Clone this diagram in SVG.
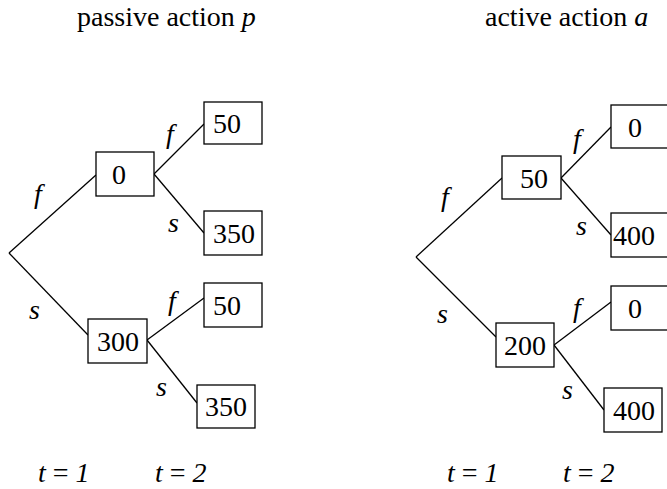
<svg xmlns="http://www.w3.org/2000/svg" width="667" height="489" viewBox="0 0 667 489">
<style>
.t { font-family: 'Liberation Serif', 'Times New Roman', Times, 'DejaVu Serif', serif; font-size: 28px; fill: #000; }
.it { font-style: italic; }
.box { fill: #fff; stroke: #000; stroke-width: 1.3; }
.edge { stroke: #000; stroke-width: 1.3; fill: none; }
</style>
<rect width="667" height="489" fill="#fff"/>
<g font-family="Liberation Serif, Times New Roman, serif" font-size="28">
<text class="t" x="77" y="26">passive action <tspan class="it">p</tspan></text>
<text class="t" x="485" y="26">active action <tspan class="it">a</tspan></text>
</g>

<g id="connectors">
  <line class="edge" x1="9" y1="253" x2="96" y2="175"/>
  <line class="edge" x1="9" y1="253" x2="88" y2="335"/>
  <line class="edge" x1="154" y1="174" x2="204" y2="124"/>
  <line class="edge" x1="154" y1="174" x2="204" y2="233"/>
  <line class="edge" x1="147" y1="340" x2="204" y2="298"/>
  <line class="edge" x1="147" y1="340" x2="197" y2="403"/>
  <line class="edge" x1="416" y1="257" x2="502" y2="178"/>
  <line class="edge" x1="416" y1="257" x2="496" y2="337"/>
  <line class="edge" x1="561" y1="178" x2="611" y2="127"/>
  <line class="edge" x1="561" y1="178" x2="611" y2="235"/>
  <line class="edge" x1="554" y1="345" x2="611" y2="302"/>
  <line class="edge" x1="554" y1="345" x2="604" y2="410"/>
</g>

<g id="edge-labels" font-family="Liberation Serif, serif">
  <text class="t it" x="34" y="203">f</text>
  <text class="t it" x="29" y="319">s</text>
  <text class="t it" x="166" y="143">f</text>
  <text class="t it" x="168" y="232">s</text>
  <text class="t it" x="168" y="310">f</text>
  <text class="t it" x="156" y="396">s</text>
  <text class="t it" x="441" y="206">f</text>
  <text class="t it" x="437" y="323">s</text>
  <text class="t it" x="573" y="148">f</text>
  <text class="t it" x="576" y="235">s</text>
  <text class="t it" x="573" y="317">f</text>
  <text class="t it" x="562" y="399">s</text>
</g>

<g id="p-t1-f"><rect class="box" x="96" y="152" width="58" height="44"/><text class="t" x="112" y="184">0</text></g>
<g id="p-t1-s"><rect class="box" x="88" y="319" width="59" height="44"/><text class="t" x="97" y="351">300</text></g>
<g id="p-t2-ff"><rect class="box" x="204" y="102" width="58" height="42"/><text class="t" x="213" y="133">50</text></g>
<g id="p-t2-fs"><rect class="box" x="204" y="211" width="58" height="44"/><text class="t" x="213" y="243">350</text></g>
<g id="p-t2-sf"><rect class="box" x="204" y="283" width="58" height="44"/><text class="t" x="213" y="315">50</text></g>
<g id="p-t2-ss"><rect class="box" x="197" y="385" width="58" height="43"/><text class="t" x="205" y="416">350</text></g>

<g id="a-t1-f"><rect class="box" x="502" y="156" width="59" height="43"/><text class="t" x="520" y="188">50</text></g>
<g id="a-t1-s"><rect class="box" x="496" y="323" width="58" height="44"/><text class="t" x="504" y="355">200</text></g>
<g id="a-t2-ff"><rect class="box" x="611" y="105" width="58" height="43"/><text class="t" x="628" y="137">0</text></g>
<g id="a-t2-fs"><rect class="box" x="611" y="213" width="58" height="44"/><text class="t" x="613" y="245">400</text></g>
<g id="a-t2-sf"><rect class="box" x="611" y="286" width="58" height="44"/><text class="t" x="628" y="318">0</text></g>
<g id="a-t2-ss"><rect class="box" x="604" y="388" width="58" height="44"/><text class="t" x="613" y="420">400</text></g>

<g id="time-labels">
  <text class="t" x="38" y="482"><tspan class="it">t</tspan> = <tspan class="it">1</tspan></text>
  <text class="t" x="155" y="482"><tspan class="it">t</tspan> = <tspan class="it">2</tspan></text>
  <text class="t" x="447" y="482"><tspan class="it">t</tspan> = <tspan class="it">1</tspan></text>
  <text class="t" x="563" y="482"><tspan class="it">t</tspan> = <tspan class="it">2</tspan></text>
</g>
</svg>
